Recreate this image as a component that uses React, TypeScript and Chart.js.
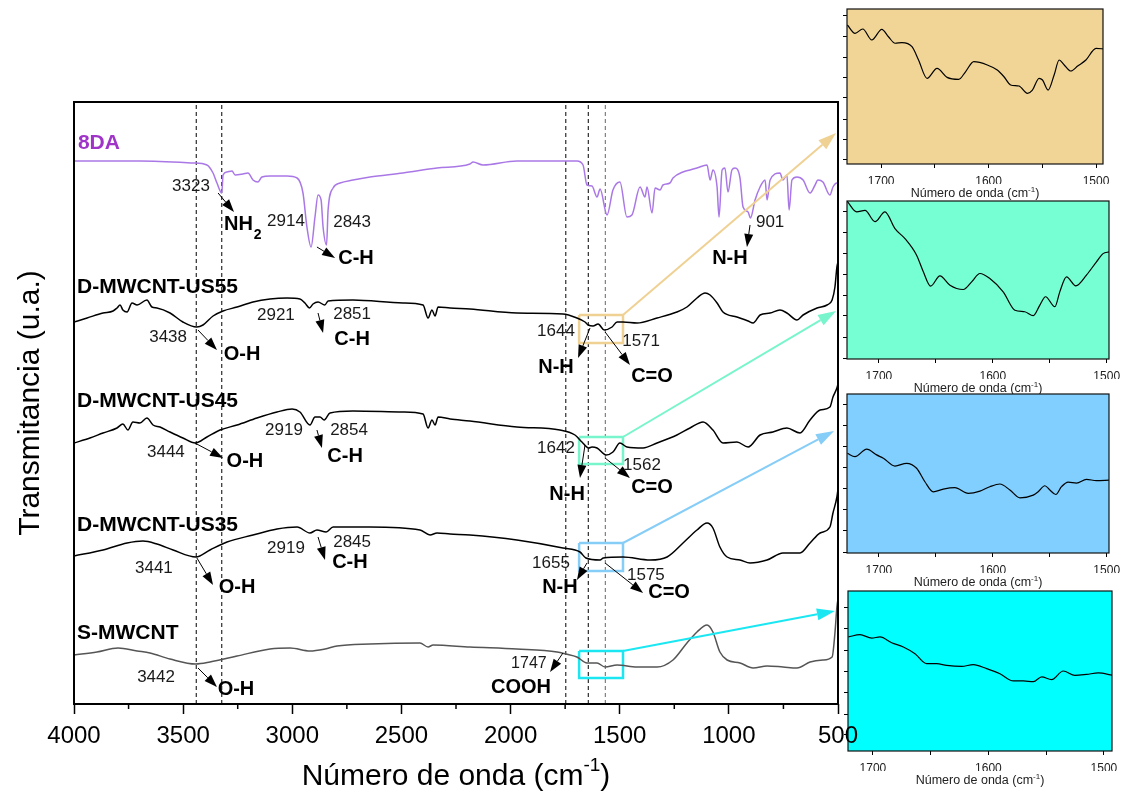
import React, { useEffect, useRef } from 'react';
import { Chart, registerables } from 'chart.js';

Chart.register(...registerables);

const FONT = 'Arial, "Liberation Sans", Helvetica, sans-serif';
Chart.defaults.font.family = FONT;
Chart.defaults.color = '#000';

type Pt = [number, number];

// FTIR spectra: [wavenumber (cm-1), transmittance (u.a.)]
const SPEC_8DA: Pt[] = [
  [4000, 54.3], [3698, 54.3], [3455, 54.1], [3391, 53.9], [3363, 53.1], [3345, 52.1], [3323, 51.1], [3317, 52.9],
  [3299, 53.2], [3276, 53.3], [3262, 52.9], [3226, 53.0], [3203, 53.1], [3180, 52.4], [3157, 52.2], [3139, 52.7],
  [3102, 52.8], [3024, 52.8], [2978, 52.6], [2951, 51.1], [2933, 47.7], [2914, 45.7], [2896, 48.7], [2882, 50.9],
  [2868, 50.4], [2859, 47.7], [2843, 45.9], [2836, 49.4], [2813, 51.6], [2781, 52.1], [2722, 52.4], [2644, 52.7],
  [2493, 53.1], [2337, 53.6], [2186, 54.0], [2172, 54.2], [2126, 53.9], [1971, 54.3], [1696, 54.3], [1668, 53.9],
  [1650, 51.9], [1627, 51.8], [1604, 50.7], [1590, 51.5], [1558, 48.9], [1531, 51.4], [1499, 52.2], [1467, 48.7],
  [1444, 48.9], [1407, 51.7], [1384, 50.7], [1375, 51.7], [1352, 49.1], [1338, 51.6], [1315, 51.4], [1302, 51.9],
  [1270, 52.1], [1256, 52.6], [1210, 53.2], [1178, 53.4], [1146, 53.6], [1100, 53.9], [1086, 52.4], [1073, 53.4],
  [1054, 51.7], [1045, 48.7], [1031, 53.4], [1018, 53.6], [1004, 51.2], [986, 53.4], [972, 53.6], [949, 52.6],
  [935, 49.7], [912, 49.2], [901, 48.6], [880, 50.4], [857, 51.7], [834, 52.4], [825, 50.4], [811, 52.4],
  [766, 53.1], [752, 52.4], [734, 52.9], [724, 49.4], [711, 52.4], [688, 52.7], [660, 52.4], [628, 51.1],
  [605, 51.9], [592, 52.4], [569, 52.2], [537, 50.9], [523, 51.7], [505, 52.1], [500, 52.1],
];

const SPEC_US55: Pt[] = [
  [4000, 38.2], [3940, 38.6], [3867, 39.1], [3821, 39.3], [3803, 39.6], [3789, 39.9], [3776, 39.4], [3757, 39.2],
  [3734, 40.1], [3711, 39.9], [3666, 40.4], [3643, 39.7], [3620, 39.6], [3560, 39.1], [3501, 38.2], [3438, 37.7],
  [3409, 37.9], [3363, 38.8], [3317, 39.3], [3253, 39.7], [3180, 40.2], [3102, 40.5], [3024, 40.6], [2965, 40.5],
  [2942, 40.1], [2921, 39.6], [2905, 40.0], [2882, 40.2], [2851, 39.9], [2836, 40.3], [2722, 40.4], [2493, 40.1],
  [2401, 39.9], [2378, 38.6], [2360, 39.4], [2346, 38.8], [2332, 39.7], [2277, 39.6], [2186, 39.5], [1971, 39.1],
  [1760, 39.0], [1696, 38.6], [1659, 38.2], [1644, 37.9], [1622, 37.8], [1599, 38.0], [1571, 37.4], [1535, 37.7],
  [1512, 38.2], [1485, 38.2], [1421, 38.1], [1329, 38.6], [1238, 39.2], [1192, 39.7], [1146, 40.6], [1109, 41.1],
  [1086, 40.9], [1054, 40.1], [1027, 39.2], [963, 38.7], [912, 38.3], [889, 38.1], [857, 38.9], [811, 39.1],
  [766, 39.4], [734, 39.1], [688, 38.4], [660, 38.9], [596, 39.6], [550, 39.9], [527, 40.4], [514, 41.7],
  [505, 43.7], [500, 44.2],
];

const SPEC_US45: Pt[] = [
  [4000, 26.1], [3927, 26.6], [3867, 27.1], [3803, 27.6], [3776, 28.0], [3753, 27.4], [3730, 28.2], [3698, 28.1],
  [3666, 28.6], [3638, 27.9], [3606, 27.7], [3560, 27.2], [3501, 26.6], [3444, 26.1], [3391, 26.7], [3331, 27.4],
  [3253, 27.9], [3162, 28.6], [3070, 29.2], [3001, 29.5], [2965, 29.2], [2919, 27.9], [2896, 28.7], [2873, 28.7],
  [2854, 28.4], [2827, 29.1], [2722, 29.3], [2493, 29.2], [2401, 29.0], [2378, 27.6], [2360, 28.4], [2346, 27.9],
  [2332, 28.7], [2277, 28.5], [2186, 28.3], [1971, 27.7], [1774, 27.4], [1705, 26.9], [1673, 26.2], [1642, 25.6],
  [1627, 25.7], [1604, 25.6], [1562, 24.9], [1531, 25.2], [1499, 26.1], [1467, 25.7], [1393, 25.6], [1329, 26.1],
  [1238, 26.9], [1178, 27.6], [1118, 28.2], [1073, 27.4], [1027, 26.1], [963, 26.2], [912, 25.7], [857, 26.9],
  [798, 27.2], [734, 27.6], [674, 27.1], [628, 28.4], [582, 29.4], [537, 29.7], [523, 30.7], [505, 31.6], [500, 32.0],
];

const SPEC_US35: Pt[] = [
  [4000, 14.8], [3867, 15.4], [3757, 16.1], [3684, 16.3], [3620, 16.0], [3546, 15.4], [3441, 14.7], [3377, 15.4],
  [3299, 16.2], [3180, 16.9], [3070, 17.5], [2978, 17.7], [2919, 17.1], [2887, 17.4], [2845, 17.2], [2813, 17.7],
  [2644, 17.7], [2415, 17.4], [2369, 16.9], [2337, 17.1], [2277, 17.0], [2186, 16.9], [1971, 16.4], [1760, 15.6],
  [1682, 15.2], [1655, 14.6], [1590, 14.4], [1575, 14.6], [1485, 14.7], [1361, 14.4], [1283, 14.7], [1210, 16.1],
  [1146, 17.4], [1100, 18.1], [1073, 17.6], [1041, 15.7], [1008, 14.7], [949, 14.4], [903, 14.1], [825, 14.4],
  [752, 15.1], [674, 15.1], [628, 16.1], [582, 17.1], [537, 17.7], [523, 19.1], [505, 20.7], [500, 21.5],
];

const SPEC_S: Pt[] = [
  [4000, 4.9], [3895, 5.2], [3798, 5.6], [3711, 5.3], [3652, 5.1], [3560, 4.5], [3442, 4.0], [3377, 4.2],
  [3253, 4.8], [3102, 5.5], [3010, 5.6], [2919, 5.3], [2850, 5.5], [2795, 5.8], [2644, 6.0], [2415, 6.1],
  [2378, 5.7], [2355, 5.9], [2186, 5.7], [1971, 5.5], [1787, 5.2], [1747, 5.0], [1696, 4.7], [1650, 4.1],
  [1604, 4.1], [1567, 3.7], [1512, 3.9], [1421, 3.7], [1329, 3.7], [1256, 4.4], [1192, 6.1], [1146, 7.2],
  [1100, 7.9], [1073, 7.2], [1041, 5.2], [1008, 4.4], [949, 4.1], [889, 3.6], [825, 3.8], [752, 3.7],
  [688, 3.6], [628, 4.2], [569, 4.4], [527, 4.7], [514, 7.1], [505, 9.7], [500, 10.5],
];

// Enlarged 1730-1490 cm-1 windows (relative transmittance)
const ZOOM_US55: Pt[] = [
  [1731.5, 8.97], [1724.3, 8.43], [1717.1, 8.71], [1708.7, 8.0], [1699.4, 8.69], [1693.2, 8.21], [1687, 7.79],
  [1680.7, 7.83], [1671.3, 7.57], [1665.2, 6.71], [1657.3, 5.53], [1648, 6.17], [1638.6, 5.59], [1627.8, 5.46],
  [1621.5, 5.95], [1613.8, 6.6], [1601.2, 6.39], [1591.9, 6.06], [1585.7, 5.63], [1579.5, 5.1], [1571.7, 5.03],
  [1563.8, 4.56], [1559.2, 4.77], [1553, 5.53], [1549.8, 5.42], [1544.6, 4.77], [1539, 5.74], [1534.3, 6.71],
  [1529.6, 6.39], [1523.4, 6.0], [1517.1, 6.32], [1509.4, 6.71], [1500, 7.46], [1492.3, 7.42],
];
const ZOOM_US45: Pt[] = [
  [1728, 10.0], [1719.5, 9.31], [1712.2, 9.41], [1703.4, 8.69], [1694.7, 9.31], [1685.9, 8.25], [1677.1, 7.62],
  [1666.9, 6.57], [1661, 5.52], [1654.6, 4.61], [1646.4, 5.26], [1637.6, 4.67], [1626, 4.4], [1618.6, 4.88],
  [1611.3, 5.41], [1602.6, 5.09], [1590.9, 4.25], [1580.6, 3.09], [1571.9, 2.99], [1564.5, 2.74], [1558.7, 3.41],
  [1553.7, 3.94], [1545.5, 3.31], [1541.2, 4.25], [1535.3, 5.2], [1527.1, 4.63], [1517.8, 5.31], [1509, 6.15],
  [1503.2, 6.67], [1497.9, 6.78],
];
const ZOOM_US35: Pt[] = [
  [1727.7, 6.27], [1721, 6.06], [1710.7, 6.53], [1702, 6.17], [1696.1, 5.96], [1685.9, 5.47], [1675.7, 5.64],
  [1666.9, 5.33], [1659.6, 4.48], [1652.3, 3.85], [1643.5, 4.02], [1633.3, 4.11], [1621.6, 3.75], [1611.3, 3.89],
  [1602.6, 4.17], [1593.8, 4.34], [1585, 3.96], [1576.2, 3.47], [1564.5, 3.64], [1560.2, 3.85], [1554.3, 4.23],
  [1549.9, 3.96], [1544.7, 3.68], [1539.7, 4.17], [1533.9, 4.46], [1526.5, 4.4], [1517.8, 4.63], [1509, 4.55],
  [1497.9, 4.59],
];
const ZOOM_S: Pt[] = [
  [1721.3, 7.13], [1711.2, 7.27], [1701.1, 7.06], [1693.9, 7.13], [1683.8, 6.77], [1673.7, 6.5], [1663.6, 6.08],
  [1653.5, 5.46], [1644.8, 5.46], [1636.2, 5.35], [1623.2, 5.29], [1613.1, 5.4], [1601.5, 5.15], [1590, 4.83],
  [1578.5, 4.38], [1569.8, 4.38], [1561.1, 4.33], [1553.9, 4.63], [1545.3, 4.46], [1535.2, 5.0], [1525.1, 4.73],
  [1515, 4.79], [1504.9, 4.88], [1492.4, 4.73],
];

const MAIN_X_MIN = 500;
const MAIN_X_MAX = 4000;
const MAIN_Y_MAX = 60.2;

// Reference band positions (cm-1)
const MARKER_LINES = [3440, 3323, 1747, 1644, 1566];
const MARKER_COLORS = ['#000', '#000', '#000', '#000', '#666'];

// Regions shown enlarged on the right
const ZOOM_WINDOW: Pt = [1686, 1485];
const ZOOM_BANDS: Pt[] = [[36.1, 38.9], [24.0, 26.7], [13.3, 16.1], [2.6, 5.3]];
const ZOOM_EDGE = ['#EFD193', '#78F5CC', '#86CDF7', '#1BE7F2'];
const ZOOM_FILL = ['#F1D597', '#76FFD2', '#80CFFF', '#00FFFF'];
const ZOOM_TARGETS: Pt[] = [[509, 57.1], [509, 39.3], [518, 27.3], [514, 9.3]];

const SERIES = [
  { name: '8DA', data: SPEC_8DA, color: '#AA78E6' },
  { name: 'D-MWCNT-US55', data: SPEC_US55, color: '#000000' },
  { name: 'D-MWCNT-US45', data: SPEC_US45, color: '#000000' },
  { name: 'D-MWCNT-US35', data: SPEC_US35, color: '#000000' },
  { name: 'S-MWCNT', data: SPEC_S, color: '#555555' },
];

type Label = { t: string; at: Pt; kind: 'name' | 'peak' | 'group' | 'small'; align?: 'left' | 'center'; color?: string; sub?: string };
const LABELS: Label[] = [
  { t: '8DA', at: [3982, 56.1], kind: 'name', align: 'left', color: '#A033C8' },
  { t: '3323', at: [3464, 51.8], kind: 'peak' },
  { t: 'NH', sub: '2', at: [3313, 48.0], kind: 'group', align: 'left' },
  { t: '2914', at: [3029, 48.3], kind: 'peak' },
  { t: '2843', at: [2726, 48.2], kind: 'peak' },
  { t: 'C-H', at: [2708, 44.6], kind: 'group' },
  { t: '901', at: [811, 48.2], kind: 'peak' },
  { t: 'N-H', at: [995, 44.6], kind: 'group' },
  { t: 'D-MWCNT-US55', at: [3986, 41.7], kind: 'name', align: 'left' },
  { t: '3438', at: [3569, 36.7], kind: 'peak' },
  { t: 'O-H', at: [3230, 35.0], kind: 'group' },
  { t: '2921', at: [3075, 38.9], kind: 'peak' },
  { t: '2851', at: [2726, 39.0], kind: 'peak' },
  { t: 'C-H', at: [2726, 36.5], kind: 'group' },
  { t: '1644', at: [1792, 37.3], kind: 'peak' },
  { t: 'N-H', at: [1792, 33.7], kind: 'group' },
  { t: '1571', at: [1402, 36.3], kind: 'peak' },
  { t: 'C=O', at: [1352, 32.8], kind: 'group' },
  { t: 'D-MWCNT-US45', at: [3986, 30.3], kind: 'name', align: 'left' },
  { t: '3444', at: [3579, 25.2], kind: 'peak' },
  { t: 'O-H', at: [3217, 24.3], kind: 'group' },
  { t: '2919', at: [3038, 27.4], kind: 'peak' },
  { t: '2854', at: [2740, 27.4], kind: 'peak' },
  { t: 'C-H', at: [2758, 24.8], kind: 'group' },
  { t: '1642', at: [1792, 25.6], kind: 'peak' },
  { t: 'N-H', at: [1741, 21.0], kind: 'group' },
  { t: '1562', at: [1398, 23.9], kind: 'peak' },
  { t: 'C=O', at: [1352, 21.7], kind: 'group' },
  { t: 'D-MWCNT-US35', at: [3986, 17.9], kind: 'name', align: 'left' },
  { t: '3441', at: [3634, 13.6], kind: 'peak' },
  { t: 'O-H', at: [3253, 11.7], kind: 'group' },
  { t: '2919', at: [3029, 15.6], kind: 'peak' },
  { t: '2845', at: [2726, 16.2], kind: 'peak' },
  { t: 'C-H', at: [2736, 14.2], kind: 'group' },
  { t: '1655', at: [1815, 14.1], kind: 'peak' },
  { t: 'N-H', at: [1774, 11.7], kind: 'group' },
  { t: '1575', at: [1380, 12.9], kind: 'peak' },
  { t: 'C=O', at: [1274, 11.2], kind: 'group' },
  { t: 'S-MWCNT', at: [3986, 7.1], kind: 'name', align: 'left' },
  { t: '3442', at: [3624, 2.7], kind: 'peak' },
  { t: 'O-H', at: [3258, 1.5], kind: 'group' },
  { t: '1747', at: [1916, 4.0], kind: 'small' },
  { t: 'COOH', at: [1952, 1.7], kind: 'group' },
];

const PEAK_ARROWS: { from: Pt; to: Pt }[] = [
  { from: [3340, 51.1], to: [3267, 49.2] },
  { from: [2887, 45.7], to: [2804, 44.6] },
  { from: [903, 47.9], to: [917, 45.7] },
  { from: [3432, 37.4], to: [3345, 35.4] },
  { from: [2882, 39.1], to: [2859, 37.1] },
  { from: [1636, 37.6], to: [1691, 34.6] },
  { from: [1567, 37.2], to: [1453, 33.9] },
  { from: [3446, 26.1], to: [3317, 24.6] },
  { from: [2887, 27.4], to: [2864, 25.6] },
  { from: [1659, 25.9], to: [1682, 22.6] },
  { from: [1567, 24.6], to: [1453, 22.6] },
  { from: [3437, 14.6], to: [3363, 11.9] },
  { from: [2882, 16.7], to: [2850, 14.4] },
  { from: [1650, 14.1], to: [1696, 12.4] },
  { from: [1567, 14.1], to: [1393, 11.1] },
  { from: [3432, 3.6], to: [3345, 1.7] },
  { from: [1760, 5.1], to: [1819, 3.2] },
];

// Inset axes
const INSET_DATA = [ZOOM_US55, ZOOM_US45, ZOOM_US35, ZOOM_S];
const INSET_X_RANGES: Pt[] = [[1493.5, 1731.8], [1498, 1728], [1498, 1728], [1493, 1721.6]];
const INSET_Y_TICKS = [
  [0.26, 1.6, 2.9, 4.26, 5.55, 6.9, 8.2, 9.55],
  [0.05, 1.38, 2.74, 4.05, 5.37, 6.68, 8.0, 9.34],
  [0.06, 1.39, 2.74, 4.06, 5.39, 6.69, 8.0, 9.33],
  [1.02, 2.29, 3.65, 4.98, 6.29, 7.65, 8.94],
];

// Page placement of each inset's plotting area
const INSET_BOXES = [
  { l: 847, t: 9, r: 1103, b: 164 },
  { l: 847, t: 201, r: 1109, b: 359 },
  { l: 847, t: 394, r: 1109, b: 553 },
  { l: 848, t: 591, r: 1112, b: 751 },
];

const toXY = (pts: Pt[]) => pts.map(([x, y]) => ({ x, y }));

function drawArrow(ctx: CanvasRenderingContext2D, x1: number, y1: number, x2: number, y2: number,
  color: string, width: number, headLen: number, headHalf: number) {
  const ang = Math.atan2(y2 - y1, x2 - x1);
  const bx = x2 - headLen * Math.cos(ang);
  const by = y2 - headLen * Math.sin(ang);
  ctx.strokeStyle = color;
  ctx.fillStyle = color;
  ctx.lineWidth = width;
  ctx.beginPath();
  ctx.moveTo(x1, y1);
  ctx.lineTo(bx, by);
  ctx.stroke();
  ctx.beginPath();
  ctx.moveTo(x2, y2);
  ctx.lineTo(bx + headHalf * Math.sin(ang), by - headHalf * Math.cos(ang));
  ctx.lineTo(bx - headHalf * Math.sin(ang), by + headHalf * Math.cos(ang));
  ctx.closePath();
  ctx.fill();
}

function drawSupText(ctx: CanvasRenderingContext2D, cx: number, cy: number, base: string, sup: string,
  tail: string, size: number, color: string) {
  const supSize = Math.round(size * 0.62);
  ctx.fillStyle = color;
  ctx.textBaseline = 'middle';
  ctx.textAlign = 'left';
  ctx.font = `${size}px ${FONT}`;
  const w1 = ctx.measureText(base).width;
  const w3 = ctx.measureText(tail).width;
  ctx.font = `${supSize}px ${FONT}`;
  const w2 = ctx.measureText(sup).width;
  let x = cx - (w1 + w2 + w3) / 2;
  ctx.font = `${size}px ${FONT}`;
  ctx.fillText(base, x, cy);
  x += w1;
  ctx.font = `${supSize}px ${FONT}`;
  ctx.fillText(sup, x, cy - size * 0.36);
  x += w2;
  ctx.font = `${size}px ${FONT}`;
  ctx.fillText(tail, x, cy);
}

const LABEL_FONTS: Record<Label['kind'], string> = {
  name: `bold 21px ${FONT}`,
  peak: `17px ${FONT}`,
  group: `bold 20px ${FONT}`,
  small: `16px ${FONT}`,
};

const mainDecor = {
  id: 'mainDecor',
  afterDatasetsDraw(chart: any) {
    const { ctx, chartArea: a, scales } = chart;
    const xs = scales.x;
    const ys = scales.y;
    const X = (w: number) => xs.getPixelForValue(w);
    const Y = (v: number) => ys.getPixelForValue(v);
    ctx.save();

    // frame
    ctx.strokeStyle = '#000';
    ctx.lineWidth = 2;
    ctx.strokeRect(a.left, a.top, a.right - a.left, a.bottom - a.top);

    // minor ticks
    ctx.lineWidth = 1.5;
    xs.ticks.filter((t: any) => t.value % 500 !== 0).forEach((t: any) => {
      const px = X(t.value);
      ctx.beginPath();
      ctx.moveTo(px, a.bottom);
      ctx.lineTo(px, a.bottom + 5);
      ctx.stroke();
    });

    // links from highlighted regions to the enlarged panels
    ZOOM_BANDS.forEach((band, i) => {
      const tgt = ZOOM_TARGETS[i];
      drawArrow(ctx, X(ZOOM_WINDOW[1]), Y(band[1]), X(tgt[0]), Y(tgt[1]), ZOOM_EDGE[i], 2, 18, 6);
    });

    // peak assignment arrows
    PEAK_ARROWS.forEach((ar) => {
      drawArrow(ctx, X(ar.from[0]), Y(ar.from[1]), X(ar.to[0]), Y(ar.to[1]), '#000', 1, 13, 4.5);
    });

    // labels
    LABELS.forEach((lb) => {
      const px = X(lb.at[0]);
      const py = Y(lb.at[1]);
      ctx.font = LABEL_FONTS[lb.kind];
      ctx.fillStyle = lb.color || (lb.kind === 'peak' || lb.kind === 'small' ? '#1a1a1a' : '#000');
      ctx.textBaseline = 'middle';
      ctx.textAlign = lb.align || 'center';
      ctx.fillText(lb.t, px, py);
      if (lb.sub) {
        const w = ctx.measureText(lb.t).width;
        const sx = lb.align === 'left' ? px + w : px + w / 2;
        ctx.font = `bold 14px ${FONT}`;
        ctx.textAlign = 'left';
        ctx.fillText(lb.sub, sx + 1, py + 11);
      }
    });

    // axis titles
    drawSupText(ctx, (a.left + a.right) / 2, 777, 'Número de onda (cm', '-1', ')', 30, '#000');
    ctx.save();
    ctx.translate(31, (a.top + a.bottom) / 2);
    ctx.rotate(-Math.PI / 2);
    ctx.font = `30px ${FONT}`;
    ctx.fillStyle = '#000';
    ctx.textAlign = 'center';
    ctx.textBaseline = 'middle';
    ctx.fillText('Transmitancia (u.a.)', 0, 0);
    ctx.restore();

    ctx.restore();
  },
};

const insetDecor = {
  id: 'insetDecor',
  beforeDatasetsDraw(chart: any, _args: any, opts: any) {
    const { ctx, chartArea: a } = chart;
    ctx.save();
    ctx.fillStyle = opts.bg;
    ctx.fillRect(a.left, a.top, a.right - a.left, a.bottom - a.top);
    ctx.restore();
  },
  afterDatasetsDraw(chart: any) {
    const { ctx, chartArea: a } = chart;
    ctx.save();
    ctx.strokeStyle = '#111';
    ctx.lineWidth = 1.2;
    ctx.strokeRect(a.left, a.top, a.right - a.left, a.bottom - a.top);
    drawSupText(ctx, (a.left + a.right) / 2, a.bottom + 30, 'Número de onda (cm', '-1', ')', 12.5, '#222');
    ctx.restore();
  },
};

export default function App() {
  const mainRef = useRef<HTMLCanvasElement>(null);
  const r0 = useRef<HTMLCanvasElement>(null);
  const r1 = useRef<HTMLCanvasElement>(null);
  const r2 = useRef<HTMLCanvasElement>(null);
  const r3 = useRef<HTMLCanvasElement>(null);
  const insetRefs = [r0, r1, r2, r3];

  useEffect(() => {
    const charts: Chart[] = [];

    const spectra = SERIES.map((s) => ({
      data: toXY(s.data),
      borderColor: s.color,
      borderWidth: 1.5,
      pointRadius: 0,
      fill: false,
      cubicInterpolationMode: 'monotone' as const,
    }));
    const boxes = ZOOM_BANDS.map((band, i) => ({
      data: toXY([
        [ZOOM_WINDOW[0], band[1]], [ZOOM_WINDOW[1], band[1]], [ZOOM_WINDOW[1], band[0]],
        [ZOOM_WINDOW[0], band[0]], [ZOOM_WINDOW[0], band[1]],
      ]),
      borderColor: ZOOM_EDGE[i],
      borderWidth: 2.5,
      pointRadius: 0,
      fill: false,
      tension: 0,
    }));
    const markers = MARKER_LINES.map((w, i) => ({
      data: toXY([[w, 0], [w, MAIN_Y_MAX]]),
      borderColor: MARKER_COLORS[i],
      borderWidth: 1,
      borderDash: [4, 3],
      pointRadius: 0,
      fill: false,
    }));

    if (mainRef.current) {
      charts.push(new Chart(mainRef.current, {
        type: 'line',
        data: { datasets: [...spectra, ...boxes, ...markers] as any },
        options: {
          responsive: false,
          animation: false,
          events: [],
          layout: { padding: { left: 74, right: 32, top: 102, bottom: 50 } },
          plugins: { legend: { display: false }, tooltip: { enabled: false } },
          scales: {
            x: {
              type: 'linear',
              reverse: true,
              min: MAIN_X_MIN,
              max: MAIN_X_MAX,
              afterFit: (s: any) => { s.height = 50; },
              ticks: {
                stepSize: 250,
                autoSkip: false,
                maxRotation: 0,
                padding: 8,
                color: '#000',
                font: { size: 24, family: FONT },
                callback: (v: any) => (Number(v) % 500 === 0 ? String(v) : ''),
              },
              grid: {
                drawOnChartArea: false,
                tickLength: 10,
                tickWidth: 1.5,
                tickColor: (c: any) => (c.tick && c.tick.value % 500 === 0 ? '#000' : 'rgba(0,0,0,0)'),
              },
              border: { display: false },
            },
            y: { display: false, min: 0, max: MAIN_Y_MAX },
          },
        },
        plugins: [mainDecor],
      }));
    }

    INSET_DATA.forEach((pts, i) => {
      const cv = insetRefs[i].current;
      if (!cv) return;
      const yt = INSET_Y_TICKS[i];
      charts.push(new Chart(cv, {
        type: 'line',
        data: {
          datasets: [{
            data: toXY(pts),
            borderColor: '#000',
            borderWidth: 1.2,
            pointRadius: 0,
            fill: false,
            cubicInterpolationMode: 'monotone',
          }] as any,
        },
        options: {
          responsive: false,
          animation: false,
          events: [],
          layout: { padding: { left: 7, top: 9, right: 18, bottom: 20 } },
          plugins: {
            legend: { display: false },
            tooltip: { enabled: false },
            insetDecor: { bg: ZOOM_FILL[i] },
          } as any,
          scales: {
            x: {
              type: 'linear',
              reverse: true,
              min: INSET_X_RANGES[i][0],
              max: INSET_X_RANGES[i][1],
              afterFit: (s: any) => { s.height = 20; },
              ticks: {
                stepSize: 50,
                includeBounds: false,
                autoSkip: false,
                maxRotation: 0,
                padding: 6,
                color: '#222',
                font: { size: 12, family: FONT },
                callback: (v: any) => (Number(v) % 100 === 0 ? String(v) : ''),
              },
              grid: { drawOnChartArea: false, tickLength: 4, tickWidth: 1, tickColor: '#000' },
              border: { display: false },
            },
            y: {
              min: 0,
              max: 10,
              afterFit: (s: any) => { s.width = 5; },
              afterBuildTicks: (s: any) => { s.ticks = yt.map((v) => ({ value: v })); },
              ticks: { display: false },
              grid: { drawOnChartArea: false, tickLength: 4, tickWidth: 1, tickColor: '#000' },
              border: { display: false },
            },
          },
        },
        plugins: [insetDecor],
      }));
    });

    return () => charts.forEach((c) => c.destroy());
  }, []);

  return (
    <div style={{ position: 'absolute', left: 0, top: 0, width: 1127, height: 804, background: '#fff', overflow: 'hidden' }}>
      {INSET_BOXES.map((b, i) => (
        <canvas
          key={i}
          ref={insetRefs[i]}
          width={b.r - b.l + 30}
          height={b.b - b.t + 49}
          style={{ position: 'absolute', left: b.l - 12, top: b.t - 9, zIndex: 1 }}
        />
      ))}
      <canvas
        ref={mainRef}
        width={870}
        height={804}
        style={{ position: 'absolute', left: 0, top: 0, zIndex: 2, pointerEvents: 'none' }}
      />
    </div>
  );
}
